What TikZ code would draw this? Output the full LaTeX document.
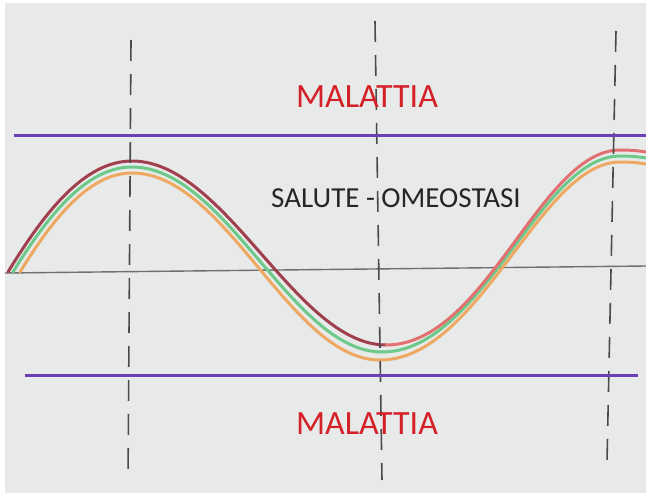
\documentclass[tikz,border=0pt]{standalone}
\usepackage{fontspec}
\setmainfont{Carlito}
\definecolor{bg}{HTML}{E8EAEA}
\definecolor{purp}{HTML}{6B3FB5}
\definecolor{txtred}{HTML}{D42027}
\definecolor{darkred}{HTML}{A0404E}
\definecolor{lightred}{HTML}{E27070}
\definecolor{cgreen}{HTML}{6CC98A}
\definecolor{corange}{HTML}{EFA862}
\definecolor{dashgray}{HTML}{4A4A4A}
\definecolor{axisgray}{HTML}{6E6E6E}
\tikzset{
  limitline/.style={draw=purp, line width=3pt},
  guide/.style={draw=dashgray, line width=1.6pt, dash pattern=on 21pt off 13pt},
  axisline/.style={draw=axisgray, line width=1.4pt},
  wave/.style={line width=3pt, line cap=round},
  redlabel/.style={text=txtred, font=\fontsize{34}{40}\selectfont, inner sep=0pt},
  blacklabel/.style={text=black!85, font=\fontsize{29}{34}\selectfont, inner sep=0pt}
}
\begin{document}
\begin{tikzpicture}[x=1pt,y=-1pt]
\useasboundingbox (0,0) rectangle (646,493);
\fill[white] (0,0) rectangle (646,493);
\fill[bg] (5,3) rectangle (646,493);

% axis
\coordinate (axL) at (5,273);
\coordinate (axR) at (646,266);
\draw[axisline] (axL) -- (axR);

% curves
\foreach \col/\o/\s/\tx/\ty in {corange/12/20/380/360, cgreen/6/13/382/352, darkred/0/8/386/345}{
  \draw[wave, draw=\col] (\s,272)
    .. controls ({\s+0.30*(132-\s)},{272-0.55*(111-\o)}) and ({\s+0.62*(132-\s)},{161+\o}) .. (132,{161+\o})
    .. controls (226,{161+\o}) and ({\tx-90},{\ty}) .. (\tx,\ty);
}
\foreach \col/\o/\tx/\ty in {corange/12/380/360, cgreen/6/382/352, lightred/0/386/345}{
  \draw[wave, draw=\col] (\tx,\ty)
    .. controls ({\tx+100},{\ty}) and (540,{150+\o}) .. (620,{150+\o})
    .. controls (632,{150+\o}) and (640,{151+\o}) .. (646,{152+\o});
}

% dashed guides
\coordinate (g1t) at (131,40);  \coordinate (g1b) at (128,481);
\coordinate (g2t) at (375,21);  \coordinate (g2b) at (382,480);
\coordinate (g3t) at (616,31);  \coordinate (g3b) at (607,462);
\draw[guide] (g1t) -- (g1b);
\draw[guide] (g2t) -- (g2b);
\draw[guide] (g3t) -- (g3b);

% limit lines
\coordinate (tl) at (14,135); \coordinate (tr) at (646,135);
\coordinate (bl) at (25,375); \coordinate (br) at (638,375);
\draw[limitline] (tl) -- (tr);
\draw[limitline] (bl) -- (br);

% labels
\node[redlabel] (top) at (367,97) {MALATTIA};
\node[redlabel] (bottom) at (367,424) {MALATTIA};
\node[blacklabel] (health) at (396,198) {SALUTE - OMEOSTASI};
\end{tikzpicture}
\end{document}
